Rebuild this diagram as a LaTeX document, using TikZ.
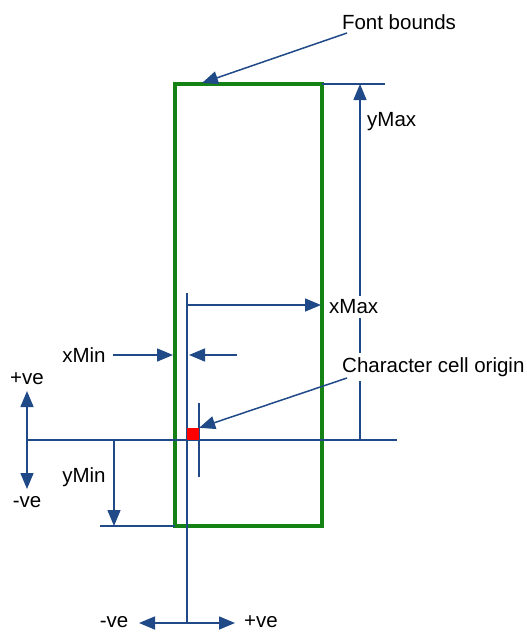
\documentclass[tikz,border=0pt]{standalone}
\usepackage{fontspec}
\setmainfont{Liberation Sans}
\usetikzlibrary{positioning,arrows.meta}
\definecolor{dimblue}{RGB}{31,73,135}
\definecolor{boundgreen}{RGB}{20,130,20}

\begin{document}
\begin{tikzpicture}[x=1pt, y=-1pt,
    dim/.style={draw=dimblue, line width=1.5pt},
    dimarrow/.style={dim, -{Triangle[length=16pt,width=13pt]}},
    twoway/.style={dim, {Triangle[length=16pt,width=13pt]}-{Triangle[length=16pt,width=13pt]}},
    bound/.style={draw=boundgreen, line width=3.5pt},
    lbl/.style={font=\fontsize{20.5}{24}\selectfont, inner sep=4pt, fill=white}]
    \useasboundingbox (0,0) rectangle (527,632);

    % font bounds box
    \coordinate (boxtl) at (175,84);
    \coordinate (boxbr) at (322,526);
    \draw[bound] (boxtl) rectangle (boxbr);

    % guide lines
    \coordinate (topend) at (385,84);
    \coordinate (baseL) at (27,440);
    \coordinate (baseR) at (397,440);
    \coordinate (origtop) at (187,293);
    \coordinate (origbot) at (187,623);
    \coordinate (crosstop) at (199,403);
    \coordinate (crossbot) at (199,477);
    \coordinate (bottomL) at (100,526);
    \draw[dim] (boxtl -| boxbr) -- (topend);
    \draw[dim] (baseL) -- (baseR);
    \draw[dim] (origtop) -- (origbot);
    \draw[dim] (crosstop) -- (crossbot);
    \draw[dim] (bottomL) -- (bottomL -| boxtl);

    % dimension arrows
    \coordinate (ymaxfoot) at (360,440);
    \coordinate (ymaxhead) at (360,84);
    \coordinate (xmaxfoot) at (187,305);
    \coordinate (xmaxhead) at (321,305);
    \coordinate (xminA) at (113,355);
    \coordinate (xminAhead) at (173,355);
    \coordinate (xminB) at (237,355);
    \coordinate (xminBhead) at (189,355);
    \coordinate (yminhead) at (114,526);
    \coordinate (vertup) at (27,391);
    \coordinate (vertdown) at (27,489);
    \coordinate (horleft) at (139,623);
    \coordinate (horright) at (235,623);
    \draw[dimarrow] (ymaxfoot) -- (ymaxhead);
    \draw[dimarrow] (xmaxfoot) -- (xmaxhead);
    \draw[dimarrow] (xminA) -- (xminAhead);
    \draw[dimarrow] (xminB) -- (xminBhead);
    \draw[dimarrow] (yminhead |- baseL) -- (yminhead);
    \draw[twoway] (vertup) -- (vertdown);
    \draw[twoway] (horleft) -- (horright);

    % origin marker
    \node (cellorigin) [fill=red, inner sep=0pt, minimum size=12pt] at (193,434) {};

    % labels
    \node (fontlbl) [lbl] at (399,22) {Font bounds};
    \node (ymaxlbl) [lbl, anchor=west] at (363,122) {yMax};
    \node (xmaxlbl) [lbl, anchor=west] at (325,307) {xMax};
    \node (xminlbl) [lbl] at (84,355) {xMin};
    \node (yminlbl) [lbl] at (84,477) {yMin};
    \node (charlbl) [lbl, anchor=west] at (338,367) {Character cell origin};
    \node (uplbl) [lbl] at (27,379) {+ve};
    \node (downlbl) [lbl] at (27,502) {-ve};
    \node (leftlbl) [lbl] at (114,622) {-ve};
    \node (rightlbl) [lbl] at (261,622) {+ve};

    % pointers
    \coordinate (fontptr) at (347,33);
    \coordinate (charptr) at (347,378);
    \draw[dimarrow] (fontptr) -- (202,83);
    \draw[dimarrow] (charptr) -- (cellorigin.north east);
\end{tikzpicture}
\end{document}
